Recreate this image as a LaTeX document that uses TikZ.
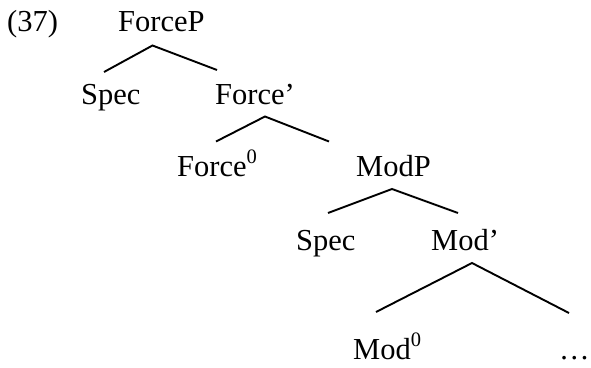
\documentclass[tikz,border=0pt]{standalone}
\usepackage{fontspec}
\setmainfont{Liberation Serif}
% superscript zero as in the head labels
\newcommand{\headsup}{\raisebox{12.5pt}{\fontsize{20.5}{20.5}\selectfont 0}}
\begin{document}
\begin{tikzpicture}[x=1pt,y=-1pt,
  lbl/.style={anchor=base west,inner sep=0pt,font=\fontsize{30.5}{35}\selectfont},
  branch/.style={line width=1.9pt}]
\useasboundingbox (0,0) rectangle (591,367);

% labels
\node[lbl] (num)    at (7,31)    {(37)};
\node[lbl] (forcep) at (118,31)  {ForceP};
\node[lbl] (spec1)  at (81,104)  {Spec};
\node[lbl] (forceb) at (215,104) {Force’};
\node[lbl] (force0) at (177,176) {Force\headsup};
\node[lbl] (modp)   at (356,176) {ModP};
\node[lbl] (spec2)  at (296,250) {Spec};
\node[lbl] (modb)   at (431,250) {Mod’};
\node[lbl] (mod0)   at (353,359) {Mod\headsup};
\node[lbl] (dots)   at (559,359) {…};

% branch points
\coordinate (forcep-top) at (152.5,45.5);
\coordinate (spec1-top)  at (104,72);
\coordinate (forceb-in)  at (217,70);
\coordinate (forceb-top) at (265,116.5);
\coordinate (force0-top) at (216,141.5);
\coordinate (modp-in)    at (329,141.5);
\coordinate (modp-top)   at (392,189);
\coordinate (spec2-top)  at (328,213);
\coordinate (modb-in)    at (458,213);
\coordinate (modb-top)   at (472,263);
\coordinate (mod0-top)   at (376,312);
\coordinate (dots-top)   at (569,313);

% branches
\draw[branch] (spec1-top) -- (forcep-top) -- (forceb-in);
\draw[branch] (force0-top) -- (forceb-top) -- (modp-in);
\draw[branch] (spec2-top) -- (modp-top) -- (modb-in);
\draw[branch] (mod0-top) -- (modb-top) -- (dots-top);
\end{tikzpicture}
\end{document}
